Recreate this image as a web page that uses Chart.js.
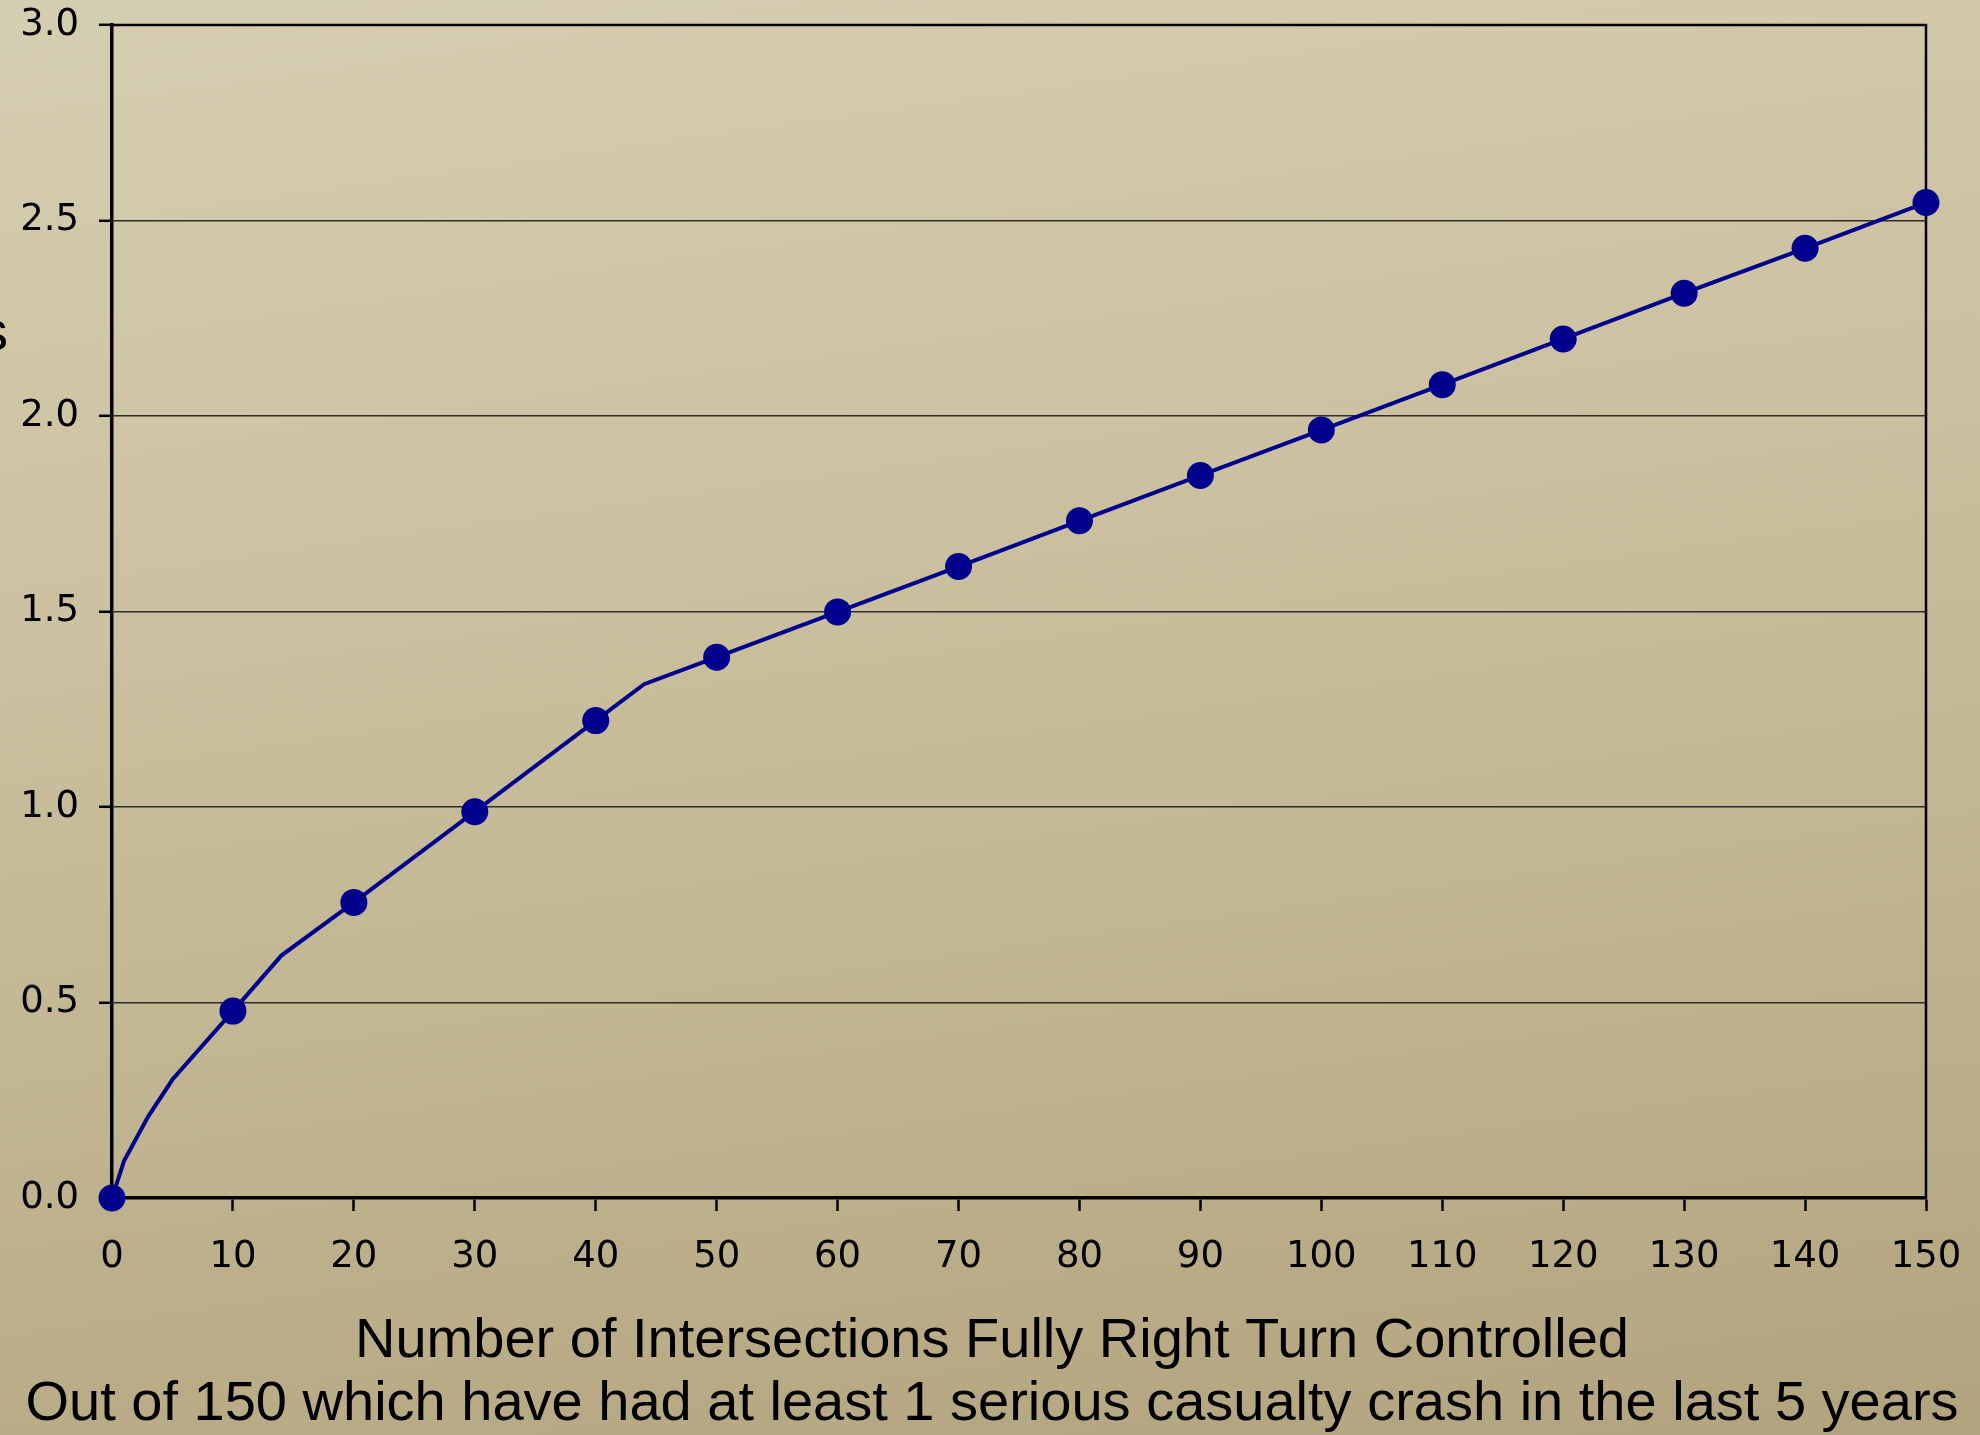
<!DOCTYPE html>
<html lang="en">
<head>
    <meta charset="UTF-8">
    <title>Right Turn Controlled Intersections</title>
    <script src="https://cdn.jsdelivr.net/npm/chart.js"></script>
    <style>
        html, body { margin: 0; padding: 0; }
        body {
            width: 1980px;
            height: 1435px;
            overflow: hidden;
            background: linear-gradient(172deg, #d6ceb1 0%, #ccc2a1 35%, #bfb38f 70%, #b1a37d 100%);
        }
        #wrap { position: relative; width: 1980px; height: 1435px; }
        canvas { display: block; }
    </style>
</head>
<body>
    <div id="wrap">
        <canvas id="crashChart" width="1980" height="1435"></canvas>
    </div>

    <script>
        // points with a marker (every 10 intersections)
        const markX = [0, 10, 20, 30, 40, 50, 60, 70, 80, 90, 100, 110, 120, 130, 140, 150];
        const markY = [0, 0.478, 0.756, 0.988, 1.221, 1.383, 1.499, 1.615, 1.732, 1.848, 1.964, 2.080, 2.197, 2.314, 2.429, 2.546];
        // bend points on the line that have no marker
        const bendX = [1, 3, 5, 14, 44];
        const bendY = [0.095, 0.209, 0.303, 0.620, 1.314];

        const xTitleLines = [
            'Number of Intersections Fully Right Turn Controlled',
            'Out of 150 which have had at least 1 serious casualty crash in the last 5 years'
        ];
        const yTitle = 'Crashes';

        const lineColor = '#00008c';
        const fontFamily = '"DejaVu Sans", Verdana, sans-serif';

        function buildLine() {
            const pts = [];
            markX.forEach((x, i) => pts.push({ x: x, y: markY[i] }));
            bendX.forEach((x, i) => pts.push({ x: x, y: bendY[i] }));
            pts.sort((a, b) => a.x - b.x);
            return pts;
        }

        const extraText = {
            id: 'extraText',
            beforeDatasetsDraw(chart) {
                const ctx = chart.ctx;
                const area = chart.chartArea;
                ctx.save();
                // frame on top and right
                ctx.strokeStyle = '#000';
                ctx.lineWidth = 2.5;
                ctx.beginPath();
                ctx.moveTo(area.left, area.top);
                ctx.lineTo(area.right, area.top);
                ctx.lineTo(area.right, area.bottom);
                ctx.stroke();
                ctx.restore();
            },
            afterDraw(chart) {
                const ctx = chart.ctx;
                ctx.save();
                ctx.fillStyle = '#000';
                ctx.textAlign = 'center';
                ctx.textBaseline = 'middle';
                ctx.font = '56px "Liberation Sans", Arial, sans-serif';
                ctx.fillText(xTitleLines[0], 992, 1342);
                ctx.fillText(xTitleLines[1], 992, 1405);

                // y title runs off the left edge, only its end shows
                ctx.textAlign = 'right';
                ctx.textBaseline = 'alphabetic';
                ctx.fillText(yTitle, 8, 350);
                ctx.restore();
            }
        };

        const ctx = document.getElementById('crashChart').getContext('2d');
        const chart = new Chart(ctx, {
            type: 'scatter',
            data: {
                datasets: [{
                    label: 'Line',
                    data: buildLine(),
                    showLine: true,
                    borderColor: lineColor,
                    borderWidth: 4,
                    pointRadius: 0,
                    tension: 0,
                    clip: false
                }, {
                    label: 'Markers',
                    data: markX.map((x, i) => ({ x: x, y: markY[i] })),
                    showLine: false,
                    pointRadius: 13.5,
                    pointBackgroundColor: lineColor,
                    pointBorderColor: lineColor,
                    pointBorderWidth: 0,
                    clip: false
                }]
            },
            options: {
                responsive: false,
                animation: false,
                devicePixelRatio: 1,
                layout: { padding: { top: 25, right: 54, left: 0, bottom: 0 } },
                plugins: {
                    legend: { display: false },
                    tooltip: { enabled: false }
                },
                scales: {
                    x: {
                        type: 'linear',
                        min: 0,
                        max: 150,
                        afterFit: function(scale) {
                            scale.height = 237;
                            scale.paddingLeft = 0;
                            scale.paddingRight = 0;
                        },
                        ticks: {
                            stepSize: 10,
                            color: '#000',
                            padding: 24,
                            maxRotation: 0,
                            autoSkip: false,
                            font: { family: fontFamily, size: 37 }
                        },
                        grid: {
                            drawOnChartArea: false,
                            drawTicks: true,
                            tickLength: 13,
                            tickColor: '#000',
                            tickWidth: 2.5
                        },
                        border: { color: '#000', width: 3.5 }
                    },
                    y: {
                        min: 0,
                        max: 3,
                        afterFit: function(scale) {
                            scale.width = 112;
                            scale.paddingTop = 0;
                            scale.paddingBottom = 0;
                        },
                        ticks: {
                            stepSize: 0.5,
                            color: '#000',
                            padding: 20,
                            callback: v => v.toFixed(1),
                            font: { family: fontFamily, size: 37 }
                        },
                        grid: {
                            color: '#2e2c26',
                            lineWidth: 1.6,
                            tickLength: 13,
                            tickColor: '#000',
                            tickWidth: 2.5
                        },
                        border: { color: '#000', width: 3.5 }
                    }
                }
            },
            plugins: [extraText]
        });
    </script>
</body>
</html>
